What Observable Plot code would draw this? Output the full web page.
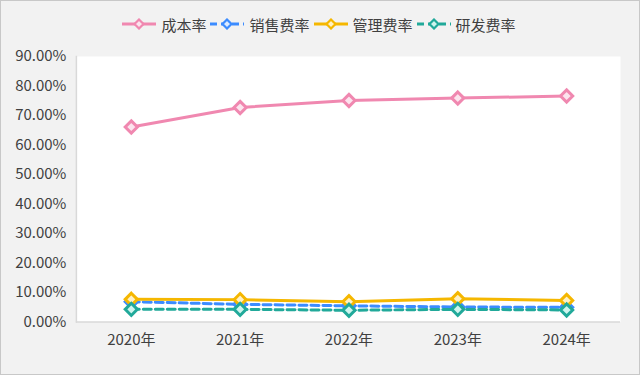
<!DOCTYPE html>
<html>
<head>
<meta charset="utf-8">
<script src="https://cdn.jsdelivr.net/npm/d3@7"></script>
<script src="https://cdn.jsdelivr.net/npm/@observablehq/plot@0.6"></script>
<style>
  html, body { margin: 0; padding: 0; background: #fff; }
  #card { position: relative; width: 638px; height: 373px; background: #f2f2f2; border: 1px solid #c8c8c8; overflow: hidden;
          font-family: "Noto Sans CJK SC", "Noto Sans", sans-serif; color: #404040; }
  #legend { position: absolute; top: 0; left: 0; width: 638px; height: 40px; display: flex; justify-content: center; align-items: center; padding-top: 6px; box-sizing: border-box; font-size: 15px; }
  .item { display: flex; align-items: center; margin-right: 3px; }
  .item span { margin-left: 4px; }
  #chart { position: absolute; top: 39px; left: -1px; }
</style>
</head>
<body>
<div id="card"><div id="legend"></div><div id="chart"></div></div>
<script>
const years = ["2020年", "2021年", "2022年", "2023年", "2024年"];
const seriesNames = ["成本率", "销售费率", "管理费率", "研发费率"];
const costRate = [66.1, 72.7, 75.1, 75.9, 76.6];
const salesRate = [6.9, 6.0, 5.5, 5.1, 5.0];
const adminRate = [7.7, 7.6, 6.9, 7.9, 7.3];
const rdRate = [4.3, 4.3, 4.0, 4.3, 4.1];
const yTicks = [0, 10, 20, 30, 40, 50, 60, 70, 80, 90];

const colors = ["#F088B0", "#3C8CFF", "#F5B700", "#21A99A"];
const fills = ["#FCE4EE", "#DDEBFF", "#FFF1C4", "#CFF5EE"];
const dashes = [null, "8,4", null, "8,4"];
const valuesBySeries = [costRate, salesRate, adminRate, rdRate];

const series = seriesNames.map((name, i) => ({
  name, color: colors[i], fill: fills[i], dash: dashes[i],
  data: years.map((y, j) => ({ year: y, value: valuesBySeries[i][j] }))
}));

// Legend
const legend = document.getElementById("legend");
series.forEach(s => {
  const it = document.createElement("div");
  it.className = "item";
  it.innerHTML = `<svg width="36" height="12"><line x1="1" y1="6" x2="35" y2="6" stroke="${s.color}" stroke-width="3" ${s.dash ? `stroke-dasharray="7,4"` : ""}/><path d="M18,1.5 L22.5,6 L18,10.5 L13.5,6 Z" fill="${s.fill}" stroke="${s.color}" stroke-width="2.2"/></svg><span>${s.name}</span>`;
  legend.appendChild(it);
});

const marks = [
  Plot.frame({ fill: "white", stroke: null }),
  Plot.ruleY([0], { stroke: "#d9d9d9", strokeWidth: 1.5 }),
  Plot.frame({ anchor: "left", stroke: "#d9d9d9", strokeWidth: 1.5 })
];
series.forEach(s => {
  marks.push(Plot.line(s.data, { x: "year", y: "value", stroke: s.color, strokeWidth: 3, strokeDasharray: s.dash ?? undefined }));
  marks.push(Plot.dot(s.data, { x: "year", y: "value", symbol: "diamond2", r: 5.5, stroke: s.color, strokeWidth: 3, fill: s.fill }));
});

const chart = Plot.plot({
  width: 640,
  height: 336,
  marginTop: 16,
  marginBottom: 54,
  marginLeft: 76,
  marginRight: 19,
  style: { background: "transparent", fontFamily: '"Noto Sans CJK SC", "Noto Sans", sans-serif', fontSize: "15px", color: "#404040" },
  x: { type: "point", domain: years, padding: 0.5, label: null, tickSize: 0, tickPadding: 12 },
  y: { domain: [0, 90], ticks: yTicks, tickFormat: d => d.toFixed(2) + "%", label: null, tickSize: 0, tickPadding: 10 },
  marks
});
document.getElementById("chart").appendChild(chart);
</script>
</body>
</html>
